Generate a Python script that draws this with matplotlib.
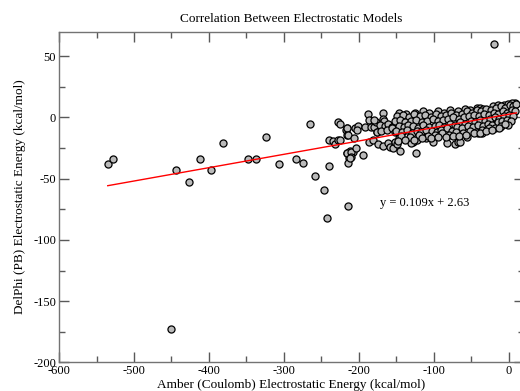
import matplotlib.pyplot as plt
from matplotlib.ticker import MultipleLocator

# Amber (Coulomb) vs DelPhi (PB) electrostatic energies, kcal/mol
# sparse points
amber_sparse = [-535, -528, -444, -426, -412, -397, -381, -348, -337, -324,
                -307, -284, -275, -265, -259, -246, -243, -240, -240, -234,
                -232, -228, -228, -217, -216, -214, -216, -212, -208, -213,
                -216, -450, -20,
                -225, -216, -215, -225, -207, -205, -201, -202, -192, -188,
                -186, -184, -180, -177, -176, -180, -168, -168, -167, -172,
                -165, -161, -156, -152, -150, -148, -146, -176, -170, -163,
                -156, -152, -186, -181, -175, -168, -161, -159, -154, -152,
                -149, -146, -216, -211, -204, -210, -214, -212, -195,
                -128, -123, -124, -130, -145, -110, -101, -83, -72, -68,
                -41, -36, -65, -56, -21, -12, -143, -43, -16, 1, 8]
delphi_sparse = [-38, -34, -43, -53, -34, -43, -21, -34, -34, -16,
                 -38, -34, -37, -5, -48, -59, -82, -40, -18, -19,
                 -22, -18, -4, -10, -14, -72, -29, -27, -28, -33,
                 -9, -173, 60,
                 -5, -9, -14, -18, -17, -9, -7, -10, -8, 3,
                 -2, -8, -8, -4, -12, -2, 4, -1, -3, -6,
                 -7, -5, -8, -6, -5, -5, -8, -12, -11, -10,
                 -9, -12, -20, -18, -22, -23, -21, -24, -25, -20,
                 -22, -17, -29, -28, -25, -32, -37, -33, -31,
                 -20, -18, -29, -21, -27, -17, -20, -21, -22, -20,
                 -13, -13, -20, -16, -5, -8, 1, 8, 9, 10, 12]

# dense band between -150 and +10, read row by row
amber_band = [-146, -137, -125, -115, -106, -94, -86, -79, -68, -59, -52,
              -39, -34, -21, -14, -7, -1, 4,
              -149, -141, -133, -127, -119, -112, -104, -97, -91, -84, -77,
              -71, -63, -56, -49, -43, -37, -30, -24, -17, -11, -5, 1, 6, 10,
              -152, -145, -139, -131, -124, -116, -109, -101, -95, -88, -81,
              -74, -67, -60, -53, -46, -40, -33, -27, -20, -14, -8, -2, 4, 8,
              -147, -140, -135, -128, -121, -114, -106, -99, -93, -86, -79,
              -72, -65, -58, -51, -45, -38, -32, -25, -19, -13, -6, 0, 5,
              -150, -143, -136, -129, -123, -117, -110, -103, -96, -90, -83,
              -76, -69, -62, -55, -48, -41, -35, -28, -22, -15, -9, -3, 3,
              -144, -132, -120, -108, -98, -89, -80, -70, -61, -52, -44, -36,
              -26, -18, -10, -1,
              -148, -138, -126, -116, -104, -94, -84, -75, -66, -57, -47, -39,
              -31, -22, -13, -5]
delphi_band = [4, 3, 4, 5, 4, 5, 4, 6, 5, 7, 6,
               8, 7, 9, 10, 10, 11, 12,
               1, 2, 0, 3, 1, 2, 0, 3, 1, 2, 4,
               2, 3, 5, 4, 6, 5, 7, 6, 8, 9, 8, 10, 9, 11,
               -3, -2, -4, -3, -2, -4, -3, -1, -3, -2, -1,
               0, -1, 0, 1, 2, 1, 3, 2, 4, 3, 5, 4, 6, 5,
               -7, -8, -6, -7, -9, -6, -8, -7, -6, -8, -5,
               -6, -4, -5, -3, -4, -2, -3, -1, 0, -1, 1, 2, 1,
               -11, -12, -10, -13, -11, -12, -10, -11, -12, -10, -9,
               -11, -8, -9, -7, -8, -6, -7, -5, -6, -4, -3, -2, -3,
               -15, -16, -14, -15, -14, -13, -14, -12, -13, -11, -12, -10,
               -9, -9, -7, -6,
               -19, -18, -18, -17, -17, -16, -16, -15, -15, -14, -13, -13,
               -11, -10, -9, -5]

slope = 0.109
intercept = 2.63
fit_label = "y = 0.109x + 2.63"

amber = amber_sparse + amber_band
delphi = delphi_sparse + delphi_band

plt.rcParams['font.family'] = 'Liberation Serif'
plt.rcParams['axes.unicode_minus'] = False

fig = plt.figure(figsize=(5.2, 3.91), dpi=100)
ax = fig.add_axes([0.1135, 0.0729, 0.894, 0.846])

ax.scatter(amber, delphi, s=26, c='#bababa', edgecolors='black',
           linewidths=0.9, zorder=2)

fx = [min(amber), max(amber)]
fy = [slope * v + intercept for v in fx]
ax.plot(fx, fy, color='red', lw=1, zorder=3)

ax.text(-172, -70, fit_label, fontsize=9, va='center', ha='left')

ax.set_xlim(-600, 20)
ax.set_ylim(-200, 70)
ax.xaxis.set_major_locator(MultipleLocator(100))
ax.xaxis.set_minor_locator(MultipleLocator(50))
ax.yaxis.set_major_locator(MultipleLocator(50))
ax.yaxis.set_minor_locator(MultipleLocator(25))
ax.tick_params(which='both', direction='in', top=True, right=True,
               color='0.35', labelsize=9, pad=2)
ax.tick_params(which='major', length=7, width=1)
ax.tick_params(which='minor', length=4, width=1)
for sp in ax.spines.values():
    sp.set_color('0.45')
    sp.set_linewidth(1)

ax.set_title("Correlation Between Electrostatic Models", fontsize=9.5, pad=7)
ax.set_xlabel("Amber (Coulomb) Electrostatic Energy (kcal/mol)", fontsize=9.5,
              labelpad=1)
ax.set_ylabel("DelPhi (PB) Electrostatic Energy (kcal/mol)", fontsize=9.5,
              labelpad=5)

fig.savefig("out.png", dpi=100)
